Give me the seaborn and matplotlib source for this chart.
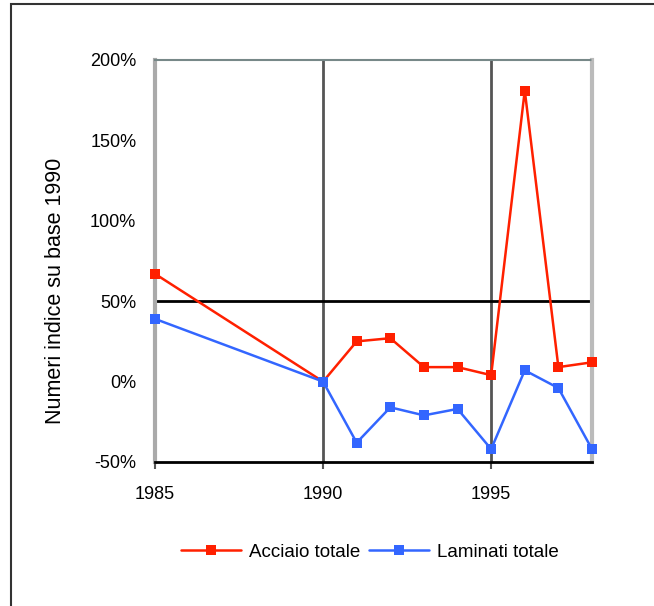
import pandas as pd
import matplotlib
matplotlib.use("Agg")
import matplotlib.pyplot as plt
import seaborn as sns
from matplotlib import ticker
from matplotlib.patches import Rectangle

years = [1985, 1990, 1991, 1992, 1993, 1994, 1995, 1996, 1997, 1998]
acciaio = [67, 0, 25, 27, 9, 9, 4, 181, 9, 12]
laminati = [39, 0, -38, -16, -21, -17, -42, 7, -4, -42]
series_names = ["Acciaio totale", "Laminati totale"]
x_ticks = [1985, 1990, 1995]
y_ticks = [-50, 0, 50, 100, 150, 200]

df = pd.DataFrame({
    "anno": years * 2,
    "valore": acciaio + laminati,
    "serie": [series_names[0]] * len(years) + [series_names[1]] * len(years),
})

sns.set_style("white")
plt.rcParams["font.family"] = ["Liberation Sans", "DejaVu Sans"]
plt.rcParams["text.color"] = "black"
plt.rcParams["axes.labelcolor"] = "black"
plt.rcParams["xtick.labelcolor"] = "black"
plt.rcParams["ytick.labelcolor"] = "black"

fig = plt.figure(figsize=(6.54, 6.06), dpi=100)
ax = fig.add_axes([155 / 654, 1 - 462 / 606, (592 - 155) / 654, (462 - 60) / 606])

# outer frame (only top and left visible in the crop)
fig.patches.append(Rectangle((11 / 654, -0.1), 1.2, 1 - 4 / 606 + 0.1,
                             transform=fig.transFigure, fill=False,
                             edgecolor="#333333", linewidth=1.5))

for yr in [1990, 1995]:
    ax.axvline(yr, color="#555555", lw=2, zorder=1)
ax.axhline(50, color="black", lw=2, zorder=1)

sns.lineplot(data=df, x="anno", y="valore", hue="serie",
             palette=["#ff2000", "#3366ff"], marker="s", markersize=7,
             markeredgewidth=0, lw=1.8, ax=ax, zorder=3, clip_on=False)

ax.set_xlim(1985, 1998)
ax.set_ylim(-50, 200)
ax.set_xticks(x_ticks)
ax.set_yticks(y_ticks)
ax.yaxis.set_major_formatter(ticker.FuncFormatter(lambda v, p: f"{int(v)}%"))
ax.tick_params(axis="x", bottom=True, length=5, width=1.5, color="#555555",
               labelsize=13, pad=12)
ax.tick_params(axis="y", left=False, labelsize=13, pad=10)

ax.spines["left"].set_color("#aaaaaa")
ax.spines["left"].set_linewidth(3)
ax.spines["right"].set_color("#bbbbbb")
ax.spines["right"].set_linewidth(3)
ax.spines["top"].set_color("#778888")
ax.spines["top"].set_linestyle((0, (1, 1)))
ax.spines["top"].set_linewidth(1.5)
ax.spines["bottom"].set_color("black")
ax.spines["bottom"].set_linewidth(2)

ax.set_xlabel("")
ax.set_ylabel("Numeri indice su base 1990", fontsize=15.5)
ax.yaxis.set_label_coords((66 - 155) / (592 - 155), (462 - 291) / 402)

handles, labels = ax.get_legend_handles_labels()
ax.legend(handles, labels, loc="center", bbox_to_anchor=(370 / 654, 1 - 552 / 606),
          bbox_transform=fig.transFigure, ncol=2, frameon=False, fontsize=13.5,
          handlelength=3.2, columnspacing=0.5, handletextpad=0.4)

fig.savefig("out.png", dpi=100)
